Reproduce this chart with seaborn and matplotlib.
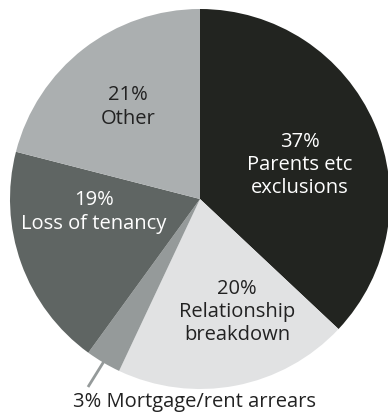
import matplotlib
matplotlib.use("Agg")
import matplotlib.pyplot as plt
import seaborn as sns
import numpy as np

categories = ["Parents etc\nexclusions", "Relationship\nbreakdown", "Mortgage/rent arrears",
              "Loss of tenancy", "Other"]
values = [37, 20, 3, 19, 21]
colors = ["#222420", "#e1e2e3", "#959a9a", "#5f6563", "#abafb0"]
text_colors = ["white", "#222222", "#222222", "white", "#222222"]

sns.set_theme(style="white")
plt.rcParams['font.family'] = ['Open Sans', 'DejaVu Sans']

W, H = 388, 414
fig = plt.figure(figsize=(W / 100, H / 100), dpi=100)
ax = fig.add_axes([0, 0, 1, 1])
cx, cy, R = 200, 200, 190

def px(x, y):
    return ((x - cx) / R, (cy - y) / R)

ax.pie(values, colors=colors, startangle=90, counterclock=False, radius=1,
       wedgeprops=dict(linewidth=0))
ax.set_xlim((0 - cx) / R, (W - cx) / R)
ax.set_ylim((cy - H) / R, (cy - 0) / R)
ax.set_aspect("equal")
ax.axis("off")

label_pos = [(300, 165), (237, 312), None, (94, 212), (128, 107)]
for i, (cat, v) in enumerate(zip(categories, values)):
    if label_pos[i] is None:
        continue
    x, y = px(*label_pos[i])
    ax.text(x, y, f"{v}%\n{cat}", ha="center", va="center", color=text_colors[i],
            fontsize=14.5, linespacing=1.22)

# Small slice label with leader line
cum = np.cumsum([0] + values)
mid = (cum[2] + cum[3]) / 2 / sum(values)
ang = np.deg2rad(90 - mid * 360)
x0, y0 = np.cos(ang) * 0.985, np.sin(ang) * 0.985
x1, y1 = px(88, 388)
ax.plot([x0, x1], [y0, y1], color="#959a9a", lw=2, solid_capstyle="butt")
tx, ty = px(195, 402)
ax.text(tx, ty, f"{values[2]}% {categories[2]}", ha="center", va="center",
        color="#222222", fontsize=14.5)

fig.savefig("out.png", dpi=100)
